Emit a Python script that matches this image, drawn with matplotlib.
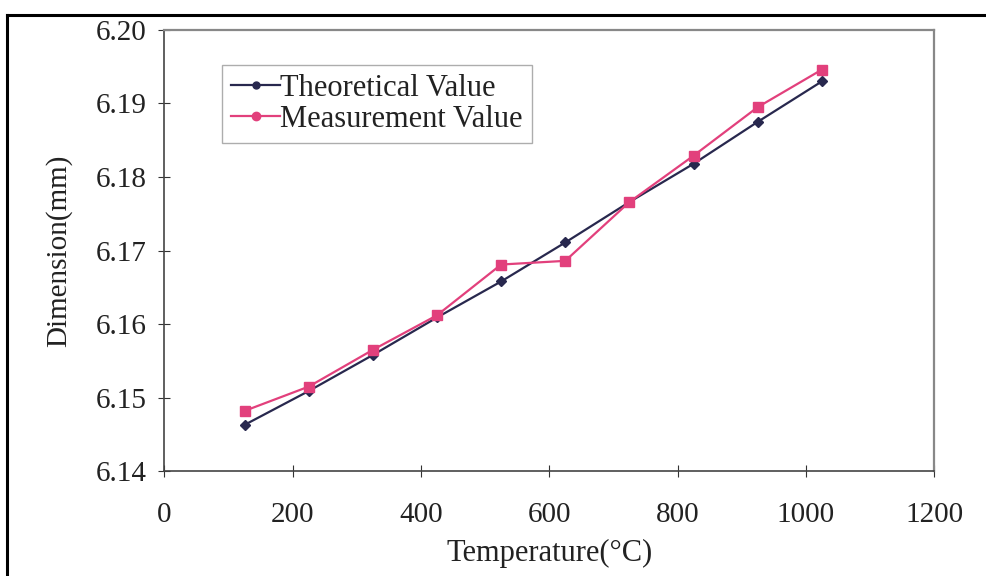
import matplotlib.pyplot as plt
from matplotlib.lines import Line2D

temperature = [125, 225, 325, 425, 525, 625, 725, 825, 925, 1025]
theoretical = [6.1463, 6.1509, 6.1558, 6.1609, 6.1658, 6.1711, 6.1766, 6.1818, 6.1875, 6.1930]
measured = [6.1482, 6.1515, 6.1565, 6.1612, 6.1681, 6.1686, 6.1766, 6.1829, 6.1895, 6.1946]

x_ticks = [0, 200, 400, 600, 800, 1000, 1200]
y_ticks = [6.14, 6.15, 6.16, 6.17, 6.18, 6.19, 6.20]

navy = '#28284e'
magenta = '#e2407c'

plt.rcParams['font.family'] = ['Liberation Serif', 'DejaVu Serif']

fig = plt.figure(figsize=(9.86, 5.76), dpi=100)
ax = fig.add_axes([0.1668, 0.182, 0.7805, 0.766])

ax.plot(temperature, theoretical, color=navy, linewidth=1.6,
        marker='D', markersize=5.5, label='Theoretical Value')
ax.plot(temperature, measured, color=magenta, linewidth=1.6,
        marker='s', markersize=7, label='Measurement Value')

ax.set_xlim(0, 1200)
ax.set_ylim(6.14, 6.20)
ax.set_xticks(x_ticks)
ax.set_yticks(y_ticks)
ax.set_yticklabels([f'{v:.2f}' for v in y_ticks])
ax.tick_params(direction='inout', length=8, width=0.8, labelsize=21,
               colors='#333333', labelcolor='#222222')
ax.tick_params(axis='x', pad=18)
ax.tick_params(axis='y', pad=9)

for side in ['left', 'bottom']:
    ax.spines[side].set_color('#444444')
    ax.spines[side].set_linewidth(1.2)
for side in ['top', 'right']:
    ax.spines[side].set_color('#888888')
    ax.spines[side].set_linewidth(1.6)

ax.set_xlabel('Temperature(°C)', fontsize=22, color='#222222', labelpad=8)
ax.set_ylabel('Dimension(mm)', fontsize=21, color='#222222', labelpad=17)

handles = [
    Line2D([], [], color=navy, linewidth=1.6, marker='o', markersize=5),
    Line2D([], [], color=magenta, linewidth=1.6, marker='o', markersize=6),
]
leg = ax.legend(handles, ['Theoretical Value', 'Measurement Value'],
                loc='upper left', bbox_to_anchor=(0.075, 0.921), borderaxespad=0,
                fontsize=22, frameon=True, fancybox=False, handlelength=1.6,
                handletextpad=0.0, borderpad=0.3, labelspacing=0.05)
leg.get_frame().set_edgecolor('#999999')
leg.get_frame().set_linewidth(1.0)
for t in leg.get_texts():
    t.set_color('#222222')

# outer frame lines (top and left)
fig.add_artist(Line2D([7 / 986, 1], [1 - 15 / 576, 1 - 15 / 576],
                      transform=fig.transFigure, color='black', linewidth=2.2))
fig.add_artist(Line2D([7 / 986, 7 / 986], [0, 1 - 15 / 576],
                      transform=fig.transFigure, color='black', linewidth=2.2))

fig.savefig('out.png', dpi=100)
